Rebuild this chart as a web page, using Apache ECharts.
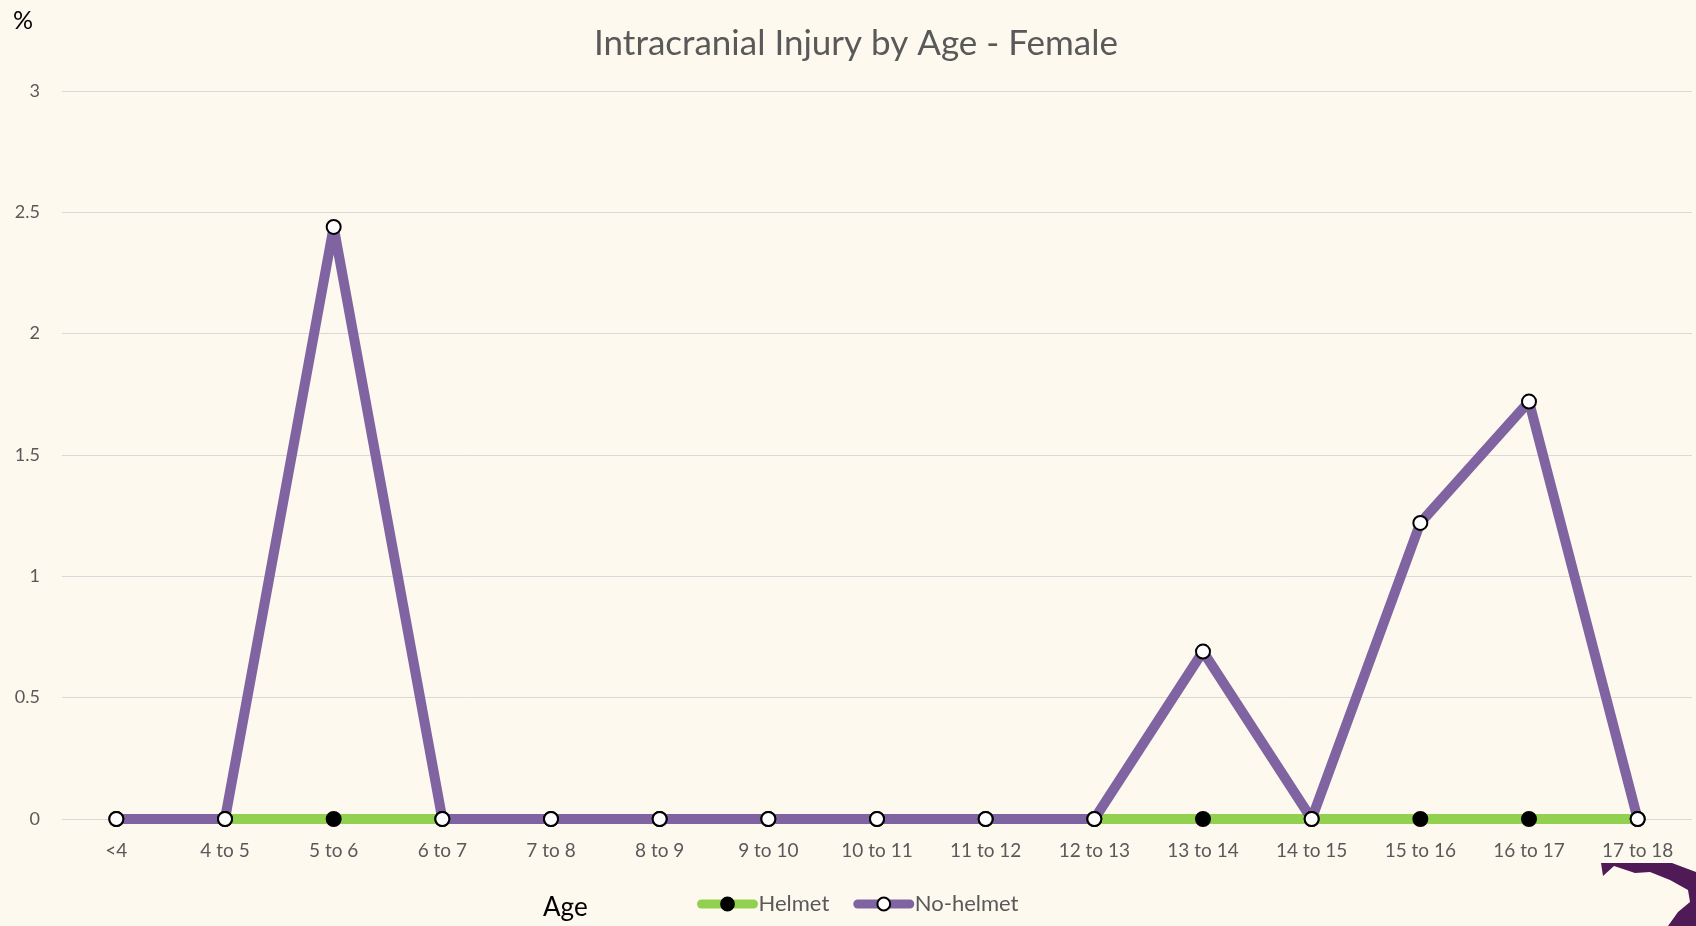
<!DOCTYPE html>
<html>
<head>
<meta charset="utf-8">
<script src="https://cdn.jsdelivr.net/npm/echarts@6/dist/echarts.min.js"></script>
<style>
html,body{margin:0;padding:0;background:#FDF9EF;}
#c{width:1696px;height:926px;}
</style>
</head>
<body>
<div id="c"></div>
<script>
const categories = ['<4','4 to 5','5 to 6','6 to 7','7 to 8','8 to 9','9 to 10','10 to 11','11 to 12','12 to 13','13 to 14','14 to 15','15 to 16','16 to 17','17 to 18'];
const helmet = [0,0,0,0,0,0,0,0,0,0,0,0,0,0,0];
const noHelmet = [0,0,2.44,0,0,0,0,0,0,0,0.69,0,1.22,1.72,0];
const yTicks = {min:0, max:3, interval:0.5};

const FONT = 'Lato, "Open Sans", sans-serif';
const chart = echarts.init(document.getElementById('c'));
chart.setOption({
  backgroundColor:'#FDF9EF',
  animation:false,
  title:{
    text:'Intracranial Injury by Age - Female',
    left:851, top:21, textAlign:'center',
    textStyle:{fontFamily:FONT,fontSize:35,fontWeight:'normal',color:'#595959'}
  },
  grid:{left:62,right:4,top:91,bottom:107,containLabel:false},
  legend:{
    left:697, top:893, padding:0,
    data:['Helmet','No-helmet'],
    itemWidth:52,itemHeight:16,itemGap:24,
    lineStyle:{width:9,cap:'round'},
    textStyle:{fontFamily:FONT,fontSize:22,color:'#595959',padding:[0,0,0,0]}
  },
  xAxis:{
    type:'category',data:categories,boundaryGap:true,
    axisLine:{show:false},axisTick:{show:false},
    axisLabel:{color:'#595959',fontFamily:FONT,fontSize:19,margin:22,interval:0}
  },
  yAxis:{
    type:'value',min:yTicks.min,max:yTicks.max,interval:yTicks.interval,
    axisLine:{show:false},axisTick:{show:false},
    axisLabel:{color:'#595959',fontFamily:FONT,fontSize:18,margin:22},
    splitLine:{lineStyle:{color:'#D9D9D9',width:1}}
  },
  graphic:[
    {type:'text',left:13,top:8,style:{text:'%',fontFamily:FONT,fontSize:25,fill:'#000'}},
    {type:'text',left:543,top:895,style:{text:'Age',fontFamily:FONT,fontSize:26,fill:'#000'}},
    {type:'polygon',shape:{points:[[1601,863],[1672,863],[1696,872],[1696,926],[1668,926],[1678,912],[1690,902],[1688,890],[1670,880],[1650,872],[1635,873],[1614,866],[1603,876]]},style:{fill:'#4F1A55'}}
  ],
  series:[
    {name:'Helmet',type:'line',data:helmet,
     lineStyle:{color:'#92D050',width:10},
     itemStyle:{color:'#000',borderColor:'#000',borderWidth:2},
     symbol:'circle',symbolSize:14,showAllSymbol:true},
    {name:'No-helmet',type:'line',data:noHelmet,
     lineStyle:{color:'#8064A2',width:10},
     itemStyle:{color:'#FFFFFF',borderColor:'#000',borderWidth:2},
     symbol:'circle',symbolSize:14,showAllSymbol:true}
  ]
});
</script>
</body>
</html>
